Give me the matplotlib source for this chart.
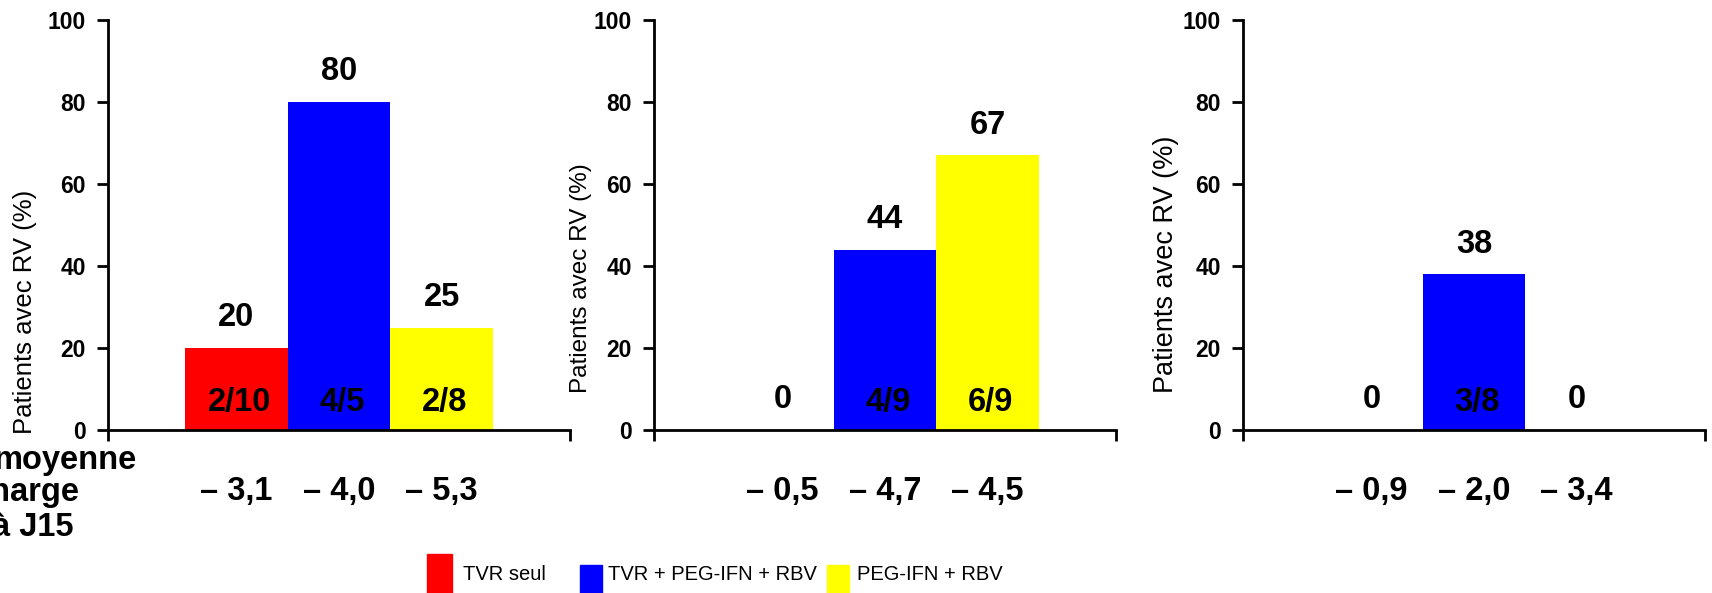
import matplotlib
matplotlib.use('Agg')
import matplotlib.pyplot as plt
from matplotlib.patches import Rectangle

plt.rcParams['font.family'] = ['Liberation Sans', 'DejaVu Sans']

# data
groups = ['TVR seul', 'TVR + PEG-IFN + RBV', 'PEG-IFN + RBV']
colors = ['#FF0000', '#0000FF', '#FFFF00']
pct_1 = [20, 80, 25]
pct_2 = [0, 44, 67]
pct_3 = [0, 38, 0]
frac_1 = ['2/10', '4/5', '2/8']
frac_2 = ['', '4/9', '6/9']
frac_3 = ['', '3/8', '']
drop_1 = [-3.1, -4.0, -5.3]
drop_2 = [-0.5, -4.7, -4.5]
drop_3 = [-0.9, -2.0, -3.4]
yticks = [0, 20, 40, 60, 80, 100]

panels = [(pct_1, frac_1, drop_1), (pct_2, frac_2, drop_2), (pct_3, frac_3, drop_3)]

W, H = 1712, 593
fig = plt.figure(figsize=(W / 100, H / 100), dpi=100)

lefts = [108, 654, 1243]
ylab_pos = [(-0.18, -0.01), (-0.158, 0.09), (-0.167, 0.09)]
ylab_size = [18.5, 17.5, 19.5]
bw = 0.222
xs = [0.5 - bw, 0.5, 0.5 + bw]
big = 23.5

for k, (pct, frac, drop) in enumerate(panels):
    ax = fig.add_axes([lefts[k] / W, (H - 430) / H, 462 / W, 410 / H])
    ax.bar(xs, pct, width=bw, color=colors, edgecolor='none')
    ax.set_xlim(0, 1)
    ax.set_ylim(0, 100)
    ax.set_yticks(yticks)
    ax.set_xticks([0, 1])
    ax.set_xticklabels([])
    for s in ['top', 'right']:
        ax.spines[s].set_visible(False)
    for s in ['left', 'bottom']:
        ax.spines[s].set_linewidth(2)
    ax.tick_params(axis='both', direction='out', length=8, width=2, pad=8)
    for lab in ax.get_yticklabels():
        lab.set_fontsize(16.5)
        lab.set_fontweight('bold')
    ax.text(ylab_pos[k][0], ylab_pos[k][1], 'Patients avec RV (%)', rotation=90,
            transform=ax.transAxes, ha='center', va='bottom', fontsize=ylab_size[k])
    for x, v, f, d in zip(xs, pct, frac, drop):
        ax.annotate(str(v), (x, v), xytext=(0, 30), textcoords='offset pixels',
                    ha='center', va='center', fontsize=big, fontweight='bold')
        if f:
            ax.annotate(f, (x, 0), xytext=(3, 28), textcoords='offset pixels',
                        ha='center', va='center', fontsize=big, fontweight='bold')
        ax.text(x, -0.151, '– ' + f'{abs(d):.1f}'.replace('.', ','),
                transform=ax.get_xaxis_transform(), ha='center', va='center',
                fontsize=big, fontweight='bold')

# left side caption (cut off by the figure edge)
for txt, xr, yc in [('moyenne', 137, 460), ('charge', 80, 493), ('à J15', 74, 527)]:
    fig.text(xr / W, 1 - yc / H, txt, ha='right', va='center', fontsize=big, fontweight='bold')

# legend
leg_x = [427, 580, 827]
leg_tx = [463, 608, 857]
leg_y0 = [554, 565, 565]
for g, c, x, tx, y0 in zip(groups, colors, leg_x, leg_tx, leg_y0):
    fig.patches.append(Rectangle((x / W, 0), (22 if x != 427 else 25) / W, (593 - y0) / H,
                                 color=c, transform=fig.transFigure, figure=fig))
    fig.text(tx / W, 1 - 575 / H, g, ha='left', va='center', fontsize=14.5)

fig.savefig('out.png', dpi=100)
